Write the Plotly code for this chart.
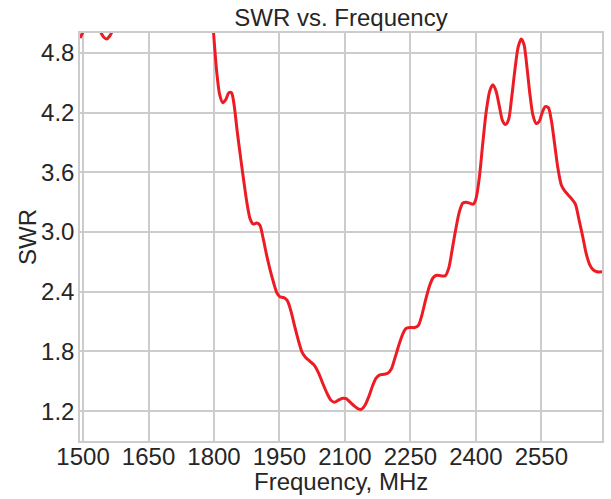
import plotly.graph_objects as go

# frequency (MHz) and SWR
freq = [1493, 1500, 1510, 1525, 1540, 1547, 1554, 1561, 1568, 1580, 1600, 1650,
        1700, 1750, 1770, 1780, 1790, 1799, 1806, 1813, 1820, 1827, 1834, 1840,
        1846, 1853, 1860, 1868, 1876, 1883, 1890, 1898, 1905, 1912, 1920, 1928,
        1936, 1944, 1951, 1960, 1968, 1976, 1985, 1994, 2002, 2010, 2020, 2030,
        2040, 2050, 2060, 2068, 2076, 2085, 2095, 2103, 2112, 2122, 2132, 2138,
        2146, 2155, 2163, 2171, 2180, 2190, 2198, 2206, 2215, 2224, 2232, 2240,
        2250, 2260, 2268, 2276, 2285, 2294, 2302, 2310, 2320, 2330, 2338, 2346,
        2354, 2362, 2370, 2378, 2386, 2394, 2400, 2408, 2416, 2424, 2432, 2439,
        2446, 2454, 2461, 2468, 2475, 2482, 2490, 2497, 2504, 2510, 2517, 2524,
        2531, 2538, 2545, 2552, 2559, 2566, 2573, 2580, 2588, 2596, 2604, 2612,
        2620, 2628, 2636, 2645, 2653, 2661, 2669, 2678, 2689]
swr = [4.95, 5.01, 5.08, 5.08, 5.01, 4.96, 4.94, 4.97, 5.03, 5.2, 5.5, 6.0,
       6.6, 6.6, 6.4, 6.05, 5.55, 5.0, 4.62, 4.38, 4.30, 4.33, 4.40, 4.40,
       4.28, 4.02, 3.78, 3.52, 3.28, 3.13, 3.08, 3.09, 3.07, 2.95, 2.78, 2.63,
       2.50, 2.39, 2.35, 2.34, 2.31, 2.21, 2.05, 1.90, 1.79, 1.74, 1.70, 1.66,
       1.58, 1.47, 1.37, 1.31, 1.29, 1.31, 1.33, 1.325, 1.29, 1.25, 1.22, 1.22,
       1.26, 1.35, 1.45, 1.53, 1.565, 1.57, 1.58, 1.62, 1.74, 1.87, 1.97, 2.03,
       2.04, 2.04, 2.06, 2.16, 2.32, 2.46, 2.54, 2.565, 2.56, 2.56, 2.64, 2.83,
       3.03, 3.20, 3.29, 3.30, 3.29, 3.28, 3.33, 3.55, 3.90, 4.22, 4.42, 4.48,
       4.42, 4.26, 4.12, 4.08, 4.13, 4.35, 4.65, 4.86, 4.94, 4.89, 4.66, 4.38,
       4.17, 4.09, 4.11, 4.20, 4.26, 4.25, 4.12, 3.90, 3.64, 3.47, 3.41, 3.37,
       3.33, 3.28, 3.13, 2.95, 2.78, 2.67, 2.62, 2.60, 2.60]

x_ticks = [1500, 1650, 1800, 1950, 2100, 2250, 2400, 2550]
y_ticks = [1.2, 1.8, 2.4, 3.0, 3.6, 4.2, 4.8]

font = 'Liberation Sans, Arial, sans-serif'
grid = '#cccccc'
W, H = 611, 499
L, R, T, B = 80, 9, 33, 58

fig = go.Figure()
fig.add_trace(go.Scatter(
    x=freq, y=swr, mode='lines',
    line=dict(color='#ed1c24', width=3, shape='spline', smoothing=0.8),
    showlegend=False
))

fig.update_layout(
    width=W, height=H,
    margin=dict(l=L, r=R, t=T, b=B, autoexpand=False),
    paper_bgcolor='white', plot_bgcolor='white',
    font=dict(family=font, size=24, color='#262626'),
    title=dict(text='SWR vs. Frequency', x=(L + (W - L - R) / 2) / W, xanchor='center',
               yref='container', y=1 - 18 / H, yanchor='middle', font=dict(size=24)),
)
fig.update_xaxes(
    range=[1493, 2689], tickvals=x_ticks, ticktext=[str(v) for v in x_ticks],
    showgrid=True, gridcolor=grid, gridwidth=2,
    showline=True, linecolor=grid, linewidth=1.5, mirror=True,
    zeroline=False, ticks='', ticklabelstandoff=-7, automargin=False,
)
fig.update_yaxes(
    range=[0.9, 5.0], tickvals=y_ticks, ticktext=['%.1f' % v for v in y_ticks],
    showgrid=True, gridcolor=grid, gridwidth=2,
    showline=True, linecolor=grid, linewidth=1.5, mirror=True,
    zeroline=False, ticks='', ticklabelstandoff=-1, automargin=False,
)

# axis titles placed as annotations so the margins stay fixed
fig.add_annotation(text='Frequency, MHz', xref='paper', yref='paper',
                   x=0.5, y=-(481 - (H - B)) / (H - T - B), yanchor='middle',
                   showarrow=False, font=dict(size=24))
fig.add_annotation(text='SWR', xref='paper', yref='paper', textangle=-90,
                   x=-(L - 27) / (W - L - R), xanchor='center', y=0.5,
                   showarrow=False, font=dict(size=24))

# drop the page's default body margin so the figure sits at the window's corner
fig.write_html('out.html', config={'displayModeBar': False},
               post_script="document.body.style.margin='0';")
